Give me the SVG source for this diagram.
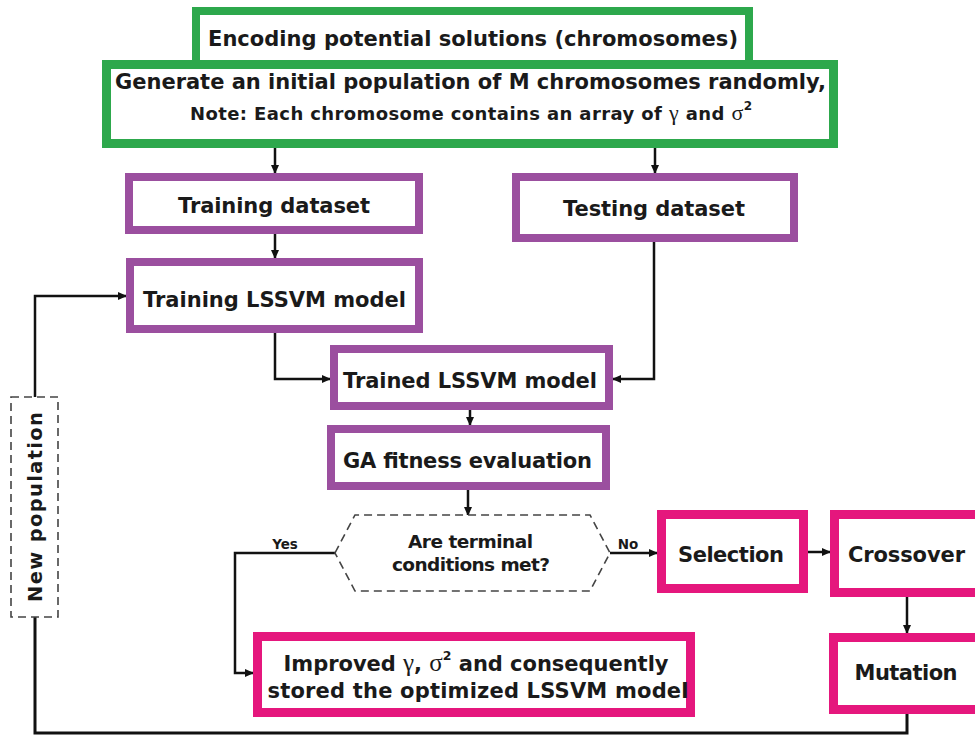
<svg xmlns="http://www.w3.org/2000/svg" width="975" height="736" viewBox="0 0 975 736">
<defs>
<style>
.box{fill:#fff}
.g{stroke:#2da84c;stroke-width:8}
.p{stroke:#9b4f9f;stroke-width:8}
.m{stroke:#e5177d;stroke-width:9}
.t{font-family:"DejaVu Sans","Liberation Sans",sans-serif;font-weight:bold;fill:#1a1a1a;text-anchor:middle}
.gr{font-family:"Liberation Serif","DejaVu Serif",serif;font-weight:normal}
.c{fill:none;stroke:#111;stroke-width:2.5}
.ca{fill:none;stroke:#111;stroke-width:2.5;marker-end:url(#ah)}
.d{fill:#fff;stroke:#444;stroke-width:1.6;stroke-dasharray:8 5}
</style>
<marker id="ah" markerUnits="userSpaceOnUse" markerWidth="9" markerHeight="8" refX="8" refY="4" orient="auto">
<path d="M0,0 L9,4 L0,8 z" fill="#111"/>
</marker>
</defs>
<rect width="975" height="736" fill="#fff"/>

<g id="connectors">
<path class="ca" d="M275,148 V173"/>
<path class="ca" d="M655,148 V173"/>
<path class="ca" d="M275,234 V258"/>
<path class="ca" d="M275,333 V379 H330"/>
<path class="ca" d="M654,242 V379 H613"/>
<path class="ca" d="M470,410 V425"/>
<path class="ca" d="M468,490 V515"/>
<path class="ca" d="M335,553 H235 V673 H253"/>
<path class="ca" d="M610,553 H657"/>
<path class="ca" d="M808,552 H830"/>
<path class="ca" d="M907,597 V633"/>
<path class="c" d="M907,714 V733 H35 V617" style="stroke-width:3"/>
<path class="ca" d="M35,397 V296 H126"/>
<text class="t" x="285" y="549" font-size="13.5">Yes</text>
<text class="t" x="628" y="549" font-size="13.5">No</text>
</g>

<g id="encoding">
<rect class="box g" x="196" y="11" width="553" height="58"/>
<text class="t" x="473" y="46" font-size="21" textLength="530">Encoding potential solutions (chromosomes)</text>
</g>

<g id="generate">
<rect class="box g" x="106.5" y="64.5" width="727" height="79" style="stroke-width:9"/>
<text class="t" x="470.5" y="89" font-size="21" textLength="711">Generate an initial population of M chromosomes randomly,</text>
<text class="t" x="471" y="120" font-size="18" fill="#2b2b2b" textLength="562">Note: Each chromosome contains an array of <tspan class="gr" font-size="22">γ</tspan> and <tspan class="gr" font-size="22">σ</tspan><tspan font-size="12" dy="-10">2</tspan></text>
</g>

<g id="training-dataset">
<rect class="box p" x="129" y="177" width="290" height="53"/>
<text class="t" x="274" y="213" font-size="21" textLength="192">Training dataset</text>
</g>

<g id="testing-dataset">
<rect class="box p" x="516" y="177" width="278" height="61"/>
<text class="t" x="654" y="216" font-size="21" textLength="182">Testing dataset</text>
</g>

<g id="training-lssvm">
<rect class="box p" x="130" y="262" width="289" height="67"/>
<text class="t" x="274.5" y="307" font-size="21" textLength="263">Training LSSVM model</text>
</g>

<g id="trained-lssvm">
<rect class="box p" x="334" y="349" width="275" height="57"/>
<text class="t" x="470" y="388" font-size="21" textLength="254">Trained LSSVM model</text>
</g>

<g id="ga-fitness">
<rect class="box p" x="331" y="429" width="275" height="57"/>
<text class="t" x="467.5" y="468" font-size="21" textLength="249">GA fitness evaluation</text>
</g>

<g id="terminal">
<polygon class="d" points="335,553 355,515 590,515 610,553 590,591 355,591"/>
<text class="t" x="470.5" y="548" font-size="18.5" textLength="125">Are terminal</text>
<text class="t" x="471" y="571" font-size="18.5" textLength="158">conditions met?</text>
</g>

<g id="selection">
<rect class="box m" x="661.5" y="514.5" width="142" height="74"/>
<text class="t" x="731" y="562" font-size="21" textLength="106">Selection</text>
</g>

<g id="crossover">
<rect class="box m" x="834.5" y="514.5" width="160" height="78"/>
<text class="t" x="906.5" y="562" font-size="21" textLength="117">Crossover</text>
</g>

<g id="mutation">
<rect class="box m" x="833.5" y="637.5" width="160" height="72"/>
<text class="t" x="906" y="680" font-size="21" textLength="103">Mutation</text>
</g>

<g id="improved">
<rect class="box m" x="257.5" y="636.5" width="433" height="76"/>
<text class="t" x="476" y="671" font-size="21" textLength="385">Improved <tspan class="gr" font-size="25">γ</tspan>, <tspan class="gr" font-size="25">σ</tspan><tspan font-size="12.5" dy="-11">2</tspan><tspan dy="11"> and consequently</tspan></text>
<text class="t" x="478" y="698" font-size="21" textLength="421">stored the optimized LSSVM model</text>
</g>

<g id="new-population">
<rect class="d" x="11" y="397" width="47" height="220" fill="#fafafa"/>
<text class="t" transform="translate(42,507) rotate(-90)" x="0" y="0" font-size="19.5" textLength="190">New population</text>
</g>
</svg>
